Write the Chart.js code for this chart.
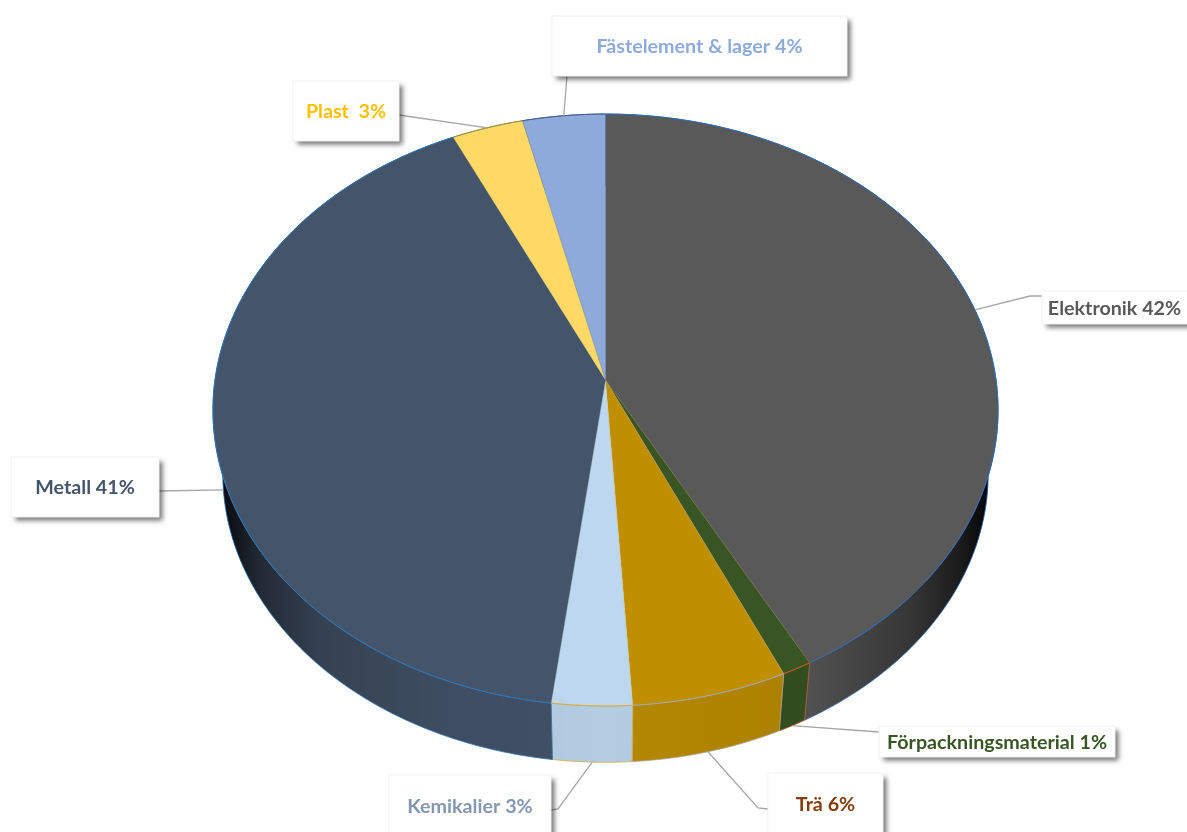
<!DOCTYPE html>
<html>
<head>
<meta charset="utf-8">
<style>
  html, body { margin: 0; background: #fff; overflow: hidden; }
  canvas { display: block; }
</style>
<script src="https://cdn.jsdelivr.net/npm/chart.js@4/dist/chart.umd.min.js"></script>
</head>
<body>
<canvas id="pie" width="1187" height="832"></canvas>
<script>
const categories = ["Elektronik", "Förpackningsmaterial", "Trä", "Kemikalier", "Metall", "Plast ", "Fästelement & lager"];
const shares = [42.1, 1.1, 5.8, 3.0, 41.0, 3.25, 3.75];
const percentLabels = ["42%", "1%", "6%", "3%", "41%", "3%", "4%"];

const sliceColors = ["#595959", "#375623", "#bf8f00", "#bdd7ee", "#44546a", "#ffd966", "#8eaadb"];
const edgeColors = ["#2e6db4", "#c55a11", "#a5a5a5", "#d6ad3a", "#2e75b6", "#8a8f3a", "#3f5a8c"];
const textColors = ["#595959", "#375623", "#843c0c", "#8497b0", "#44546a", "#ffc000", "#8eaadb"];

// callout boxes, same order as categories: x, y, w, h and the knee of the leader
const callouts = [
  { x: 1042, y: 291, w: 150, h: 33, fromX: 1042, fromY: 296, kneeX: 1030, kneeY: 296 },
  { x: 879, y: 726, w: 236, h: 31, fromX: 879, fromY: 732, kneeX: 879, kneeY: 732 },
  { x: 768, y: 773, w: 115, h: 62, fromX: 768, fromY: 809, kneeX: 758, kneeY: 808 },
  { x: 389, y: 775, w: 162, h: 62, fromX: 551, fromY: 810, kneeX: 558, kneeY: 809 },
  { x: 11, y: 457, w: 148, h: 60, fromX: 159, fromY: 491, kneeX: 159, kneeY: 491 },
  { x: 293, y: 81, w: 106, h: 60, fromX: 399, fromY: 115, kneeX: 399, kneeY: 115 },
  { x: 552, y: 16, w: 295, h: 60, fromX: 567, fromY: 76, kneeX: 567, kneeY: 76 }
];

// perspective of the tilted disc: unit circle (u, v) onto the page
const APEX_X = 605.5, APEX_Y = 380, TILT = -0.1014, RX = 390.5, RY = 292.9;
// the lower rim shrinks toward a vanishing point far below the disc
const VANISH_Y = 2960, RIM_SCALE = 0.975;

function topPoint(angle) {
  const u = Math.cos(angle), v = Math.sin(angle);
  const w = 1 + TILT * v;
  return { x: APEX_X + RX * u / w, y: APEX_Y + RY * v / w };
}

function lowPoint(angle) {
  const p = topPoint(angle);
  return {
    x: APEX_X + RIM_SCALE * (p.x - APEX_X),
    y: VANISH_Y + RIM_SCALE * (p.y - VANISH_Y)
  };
}

function arcSamples(start, end) {
  const n = Math.max(4, Math.ceil((end - start) / 0.01));
  const out = [];
  for (let i = 0; i <= n; i++) out.push(start + (end - start) * i / n);
  return out;
}

function wallShade(ctx) {
  const g = ctx.createLinearGradient(222, 0, 988, 0);
  g.addColorStop(0, "rgba(0,0,0,0.88)");
  g.addColorStop(0.05, "rgba(0,0,0,0.5)");
  g.addColorStop(0.13, "rgba(0,0,0,0.22)");
  g.addColorStop(0.3, "rgba(0,0,0,0.08)");
  g.addColorStop(0.5, "rgba(0,0,0,0.05)");
  g.addColorStop(0.77, "rgba(0,0,0,0.1)");
  g.addColorStop(0.9, "rgba(0,0,0,0.4)");
  g.addColorStop(0.965, "rgba(0,0,0,0.7)");
  g.addColorStop(1, "rgba(0,0,0,0.95)");
  return g;
}

function drawWall(ctx, arc, shade) {
  const angles = arcSamples(arc.startAngle, arc.endAngle);
  ctx.beginPath();
  angles.forEach((a, i) => {
    const p = topPoint(a);
    if (i === 0) ctx.moveTo(p.x, p.y); else ctx.lineTo(p.x, p.y);
  });
  angles.slice().reverse().forEach(a => {
    const p = lowPoint(a);
    ctx.lineTo(p.x, p.y);
  });
  ctx.closePath();
  ctx.fillStyle = arc.options.backgroundColor;
  ctx.fill();
  ctx.fillStyle = shade;
  ctx.fill();

  // lower rim and the vertical seams
  ctx.strokeStyle = arc.options.borderColor;
  ctx.lineWidth = 0.8;
  ctx.stroke();
}

function drawTop(ctx, arc) {
  const angles = arcSamples(arc.startAngle, arc.endAngle);
  ctx.beginPath();
  ctx.moveTo(APEX_X, APEX_Y);
  angles.forEach(a => {
    const p = topPoint(a);
    ctx.lineTo(p.x, p.y);
  });
  ctx.closePath();
  ctx.fillStyle = arc.options.backgroundColor;
  ctx.fill();
  ctx.strokeStyle = arc.options.borderColor;
  ctx.globalAlpha = 0.45;
  ctx.lineWidth = 0.6;
  ctx.stroke();
  ctx.globalAlpha = 1;

  // only the outer rim carries the bright edge colour
  ctx.beginPath();
  angles.forEach((a, i) => {
    const p = topPoint(a);
    if (i === 0) ctx.moveTo(p.x, p.y); else ctx.lineTo(p.x, p.y);
  });
  ctx.strokeStyle = arc.options.borderColor;
  ctx.lineWidth = 1;
  ctx.stroke();
}

function leaderAnchor(arc) {
  const mid = (arc.startAngle + arc.endAngle) / 2;
  return Math.sin(mid) > 0.05 ? lowPoint(mid) : topPoint(mid);
}

function drawCallout(ctx, arc, i) {
  const box = callouts[i];
  const end = leaderAnchor(arc);
  ctx.beginPath();
  ctx.moveTo(end.x, end.y);
  ctx.lineTo(box.kneeX, box.kneeY);
  ctx.lineTo(box.fromX, box.fromY);
  ctx.strokeStyle = "#a6a6a6";
  ctx.lineWidth = 1.3;
  ctx.stroke();

  ctx.save();
  ctx.shadowColor = "rgba(0,0,0,0.55)";
  ctx.shadowBlur = 5;
  ctx.shadowOffsetX = 3.5;
  ctx.shadowOffsetY = 3.5;
  ctx.fillStyle = "#fff";
  ctx.fillRect(box.x, box.y, box.w, box.h);
  ctx.restore();
  ctx.strokeStyle = "#f2f2f2";
  ctx.lineWidth = 1;
  ctx.strokeRect(box.x, box.y, box.w, box.h);

  ctx.font = "bold 19.7px Lato";
  ctx.fillStyle = textColors[i];
  ctx.textAlign = "center";
  ctx.textBaseline = "middle";
  const textBoxW = Math.min(box.w, 1187 - box.x);
  const textH = Math.min(box.h, 62);
  ctx.fillText(categories[i] + " " + percentLabels[i], box.x + textBoxW / 2, box.y + textH / 2 + 1);
}

const discPlugin = {
  id: "disc",
  beforeDatasetDraw(chart, args) {
    const ctx = chart.ctx;
    const arcs = chart.getDatasetMeta(args.index).data;
    const shade = wallShade(ctx);
    arcs.forEach(arc => drawWall(ctx, arc, shade));
    arcs.forEach(arc => drawTop(ctx, arc));
    arcs.forEach((arc, i) => drawCallout(ctx, arc, i));
    return false;
  }
};

new Chart(document.getElementById("pie"), {
  type: "pie",
  data: {
    labels: categories,
    datasets: [{
      data: shares,
      backgroundColor: sliceColors,
      borderColor: edgeColors,
      borderWidth: 1
    }]
  },
  options: {
    responsive: false,
    animation: false,
    plugins: { legend: { display: false }, tooltip: { enabled: false } }
  },
  plugins: [discPlugin]
});
</script>
</body>
</html>
